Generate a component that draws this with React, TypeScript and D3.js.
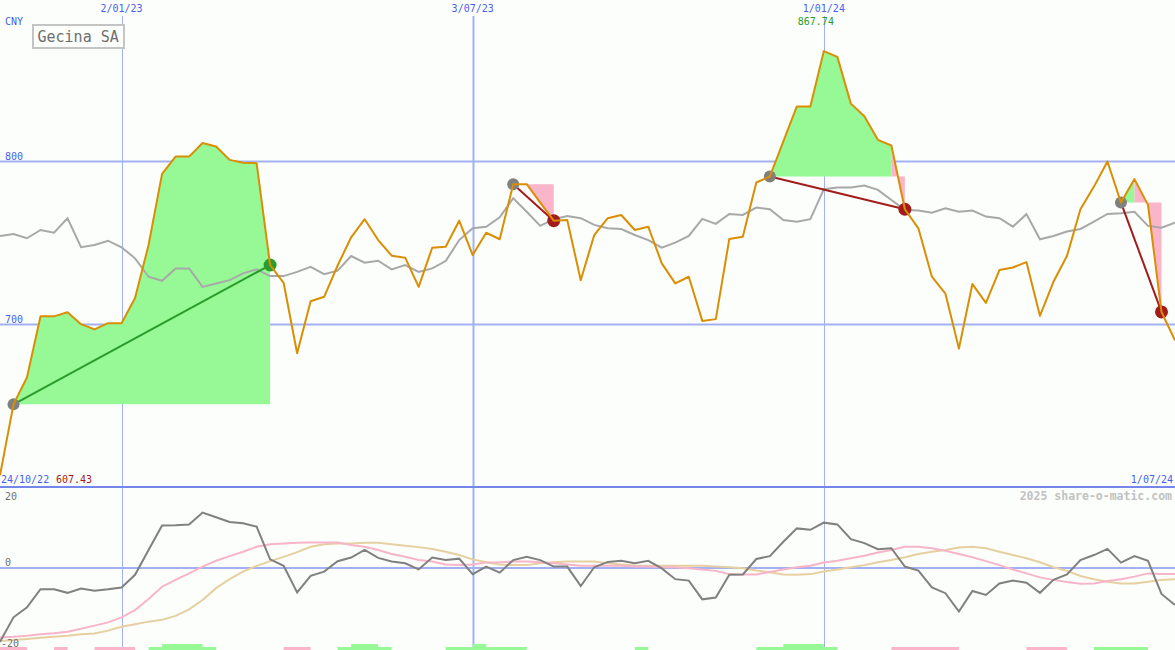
import React from 'react';
import * as d3 from 'd3';

// Weekly closing prices (CNY)
const prices = [
  607.43, 651.0, 667.6, 705.1, 705.0, 707.5, 700.2, 697.0, 700.8, 700.8,
  716.2, 748.8, 792.4, 803.0, 803.0, 811.3, 809.2, 801.0, 799.2, 799.0,
  736.5, 725.6, 682.4, 714.3, 717.0, 736.2, 753.5, 764.6, 751.8, 742.2,
  741.0, 723.1, 747.1, 747.7, 763.7, 742.6, 756.3, 752.3, 786.1, 786.1,
  774.8, 763.7, 764.1, 727.2, 754.9, 765.2, 767.2, 758.0, 760.0, 737.5,
  725.2, 729.3, 702.2, 703.3, 752.5, 753.9, 787.1, 790.8, 812.3, 833.8,
  833.8, 867.74, 864.2, 835.5, 827.7, 813.3, 809.8, 770.7, 759.0, 729.3,
  719.0, 685.2, 724.8, 713.3, 733.4, 735.0, 738.3, 705.3, 726.2, 742.0,
  770.7, 784.6, 800.0, 774.8, 789.2, 773.4, 707.7, 690.3,
];

// Moving average of the price
const average = [
  754.3, 755.5, 752.9, 758.0, 756.3, 765.2, 747.4, 748.8, 751.4, 747.4,
  740.6, 729.3, 726.8, 734.4, 734.4, 723.1, 725.2, 727.2, 731.4, 733.8,
  729.7, 729.7, 732.3, 735.4, 730.9, 733.0, 742.0, 737.9, 739.1, 733.8,
  736.5, 732.3, 734.4, 738.9, 751.8, 759.0, 760.0, 765.8, 777.5, 769.2,
  760.5, 764.6, 766.6, 765.2, 761.1, 759.0, 758.6, 754.9, 751.8, 747.1,
  750.2, 754.3, 764.8, 761.7, 767.8, 767.2, 771.7, 770.7, 764.1, 763.1,
  764.6, 783.0, 784.0, 784.0, 785.2, 782.6, 776.4, 770.3, 769.9, 768.6,
  771.3, 769.2, 769.9, 766.2, 765.2, 760.0, 767.7, 752.3, 754.3, 757.0,
  758.6, 763.1, 767.8, 768.3, 769.2, 760.5, 759.4, 762.5,
];

// Momentum oscillator and its two signal curves
const momentum = [
  -20.5, -13.7, -10.9, -5.9, -5.9, -6.9, -5.7, -6.3, -5.9, -5.4,
  -1.9, 5.0, 11.8, 11.9, 12.1, 15.4, 14.1, 12.8, 12.4, 11.5,
  2.4, 0.6, -6.8, -2.2, -1.0, 1.9, 2.9, 5.0, 2.8, 1.8,
  1.3, -0.4, 2.9, 2.2, 2.6, -1.7, 0.4, -1.3, 2.2, 3.1,
  2.2, 0.4, 0.4, -5.0, 0.2, 1.7, 2.0, 1.3, 2.0, -0.1,
  -3.1, -3.5, -8.7, -8.2, -1.9, -1.8, 2.5, 3.3, 7.3, 11.0,
  10.6, 12.6, 12.1, 8.0, 6.9, 5.2, 5.5, 0.4, -0.7, -5.4,
  -7.0, -12.1, -6.4, -7.5, -4.3, -3.5, -4.1, -6.9, -3.3, -1.8,
  2.2, 3.6, 5.3, 1.5, 3.3, 2.0, -7.2, -10.3,
];

const signalFast = [
  -19.3, -19.1, -18.8, -18.4, -18.1, -17.7, -16.9, -16.0, -15.1, -13.7,
  -11.7, -8.6, -5.2, -3.3, -1.5, 0.4, 2.0, 3.3, 4.5, 5.9,
  6.6, 6.8, 7.0, 7.1, 7.1, 7.1, 6.4, 5.9, 5.0, 3.9,
  3.1, 2.2, 1.8, 1.0, 0.8, 1.0, 1.5, 1.6, 1.8, 1.8,
  1.6, 1.3, 1.0, 0.6, 0.6, 0.6, 0.6, 0.4, 0.4, 0.2,
  0.2, -0.1, -0.4, -0.8, -1.7, -1.8, -1.8, -1.1, -0.4, 0.2,
  0.6, 1.5, 2.0, 2.7, 3.4, 4.3, 5.0, 5.9, 5.9, 5.5,
  4.8, 3.9, 3.0, 1.9, 0.8, -0.4, -1.5, -2.6, -3.3, -3.9,
  -4.4, -4.3, -3.6, -3.1, -2.4, -1.5, -1.7, -1.7,
];

const signalSlow = [
  -20.3, -20.0, -19.7, -19.4, -19.1, -18.8, -18.4, -18.2, -17.4, -16.3,
  -15.6, -14.9, -14.4, -13.3, -11.5, -8.9, -5.6, -3.1, -1.0, 0.6,
  1.9, 3.1, 4.4, 5.9, 6.6, 6.8, 6.8, 7.0, 7.0, 6.6,
  6.2, 5.8, 5.3, 4.5, 3.6, 2.4, 1.6, 1.0, 0.8, 0.8,
  1.3, 1.6, 1.8, 1.8, 1.8, 1.3, 1.0, 0.7, 0.6, 0.6,
  0.6, 0.6, 0.6, 0.4, 0.2, -0.1, -0.7, -1.2, -1.8, -1.9,
  -1.7, -1.0, -0.4, 0.2, 0.8, 1.6, 2.2, 3.0, 3.9, 4.5,
  5.0, 5.7, 5.9, 5.5, 4.5, 3.6, 2.7, 1.6, 0.2, -0.8,
  -2.2, -3.1, -3.8, -4.3, -4.3, -3.8, -3.3, -3.1,
];

// Trades: entry and exit week indices
const tradeStarts = [1, 38, 57, 83];
const tradeEnds = [20, 41, 67, 86];

// Signal strips along the bottom: [from, to, strength, direction]
const stripFrom = [0, 4, 7, 11, 12, 21, 25, 26, 33, 35, 47, 56, 58, 66, 76, 81];
const stripTo = [2, 5, 10, 16, 15, 23, 29, 28, 39, 36, 48, 62, 61, 71, 79, 85];
const stripStrength = [1, 1, 1, 1, 2, 1, 1, 2, 1, 2, 1, 1, 2, 1, 1, 1];
const stripUp = [false, false, false, true, true, false, true, true, true, true, true, true, true, false, false, true];

// Axis labels
const dateTickIndex = [9, 35, 61];
const dateTickLabels = ['2/01/23', '3/07/23', '1/01/24'];
const firstDateLabel = '24/10/22';
const lastDateLabel = '1/07/24';
const priceTicks = [800, 700];
const momentumTicks = [20, 0, -20];
const title = 'Gecina SA';
const currency = 'CNY';

const W = 1175;
const H = 650;
const MAIN_BOTTOM = 487;
const mono = '"DejaVu Sans Mono", monospace';

const C = {
  bg: '#fbfefa',
  grid: '#a3b1f2',
  gridDark: '#7585ea',
  label: '#4a5ef0',
  price: '#da8e04',
  avg: '#a8a8a8',
  up: '#96f996',
  down: '#fbb5ca',
  win: '#2b9b2b',
  loss: '#a21c1c',
  entry: '#808080',
  osc: '#808080',
  fast: '#f8b4c8',
  slow: '#e6cfa0',
};

export default function App() {
  const n = prices.length;
  const x = d3.scaleLinear().domain([0, n - 1]).range([0, W]);
  const y = d3.scaleLinear().domain([700, 800]).range([324.5, 161.5]);
  const yl = d3.scaleLinear().domain([-20, 20]).range([640, 496]);

  const priceLine = d3.line<number>().x((_, i) => x(i)).y((d) => y(d));
  const lowLine = d3.line<number>().x((_, i) => x(i)).y((d) => yl(d));

  const hi = d3.max(prices) as number;
  const lo = d3.min(prices) as number;
  const hiIdx = prices.indexOf(hi);

  // Fills between price and entry level for each trade; each week is
  // coloured by whether it closes above the entry, and runs of the same
  // colour are merged into one shape.
  const fills: { d: string; up: boolean }[] = [];
  tradeStarts.forEach((s, k) => {
    const e = tradeEnds[k];
    const base = prices[s];
    const seg = d3
      .area<number>()
      .x((i) => x(i))
      .y0(y(base))
      .y1((i) => y(prices[i]));
    let runStart = s;
    let runUp = prices[s + 1] >= base;
    for (let j = s; j < e; j++) {
      const up = prices[j + 1] >= base;
      if (up !== runUp) {
        fills.push({ d: seg(d3.range(runStart, j + 1)) as string, up: runUp });
        runStart = j;
        runUp = up;
      }
    }
    fills.push({ d: seg(d3.range(runStart, e + 1)) as string, up: runUp });
  });

  return (
    <svg
      width={W}
      height={H}
      style={{ position: 'absolute', left: 0, top: 0, display: 'block' }}
      fontFamily={mono}
    >
      <defs>
        <clipPath id="mainClip">
          <rect x={0} y={0} width={W} height={MAIN_BOTTOM} />
        </clipPath>
        <clipPath id="lowClip">
          <rect x={0} y={MAIN_BOTTOM + 1} width={W} height={H - MAIN_BOTTOM - 1} />
        </clipPath>
      </defs>
      <rect width={W} height={H} fill={C.bg} />

      {/* grid */}
      {dateTickIndex.map((t, i) => (
        <line
          key={'v' + i}
          x1={Math.round(x(t)) + 0.5}
          x2={Math.round(x(t)) + 0.5}
          y1={16}
          y2={H}
          stroke={C.grid}
          strokeWidth={dateTickLabels[i].includes('/07/') ? 2 : 1}
        />
      ))}
      {priceTicks.map((p) => (
        <line key={'h' + p} x1={0} x2={W} y1={y(p)} y2={y(p)} stroke={C.grid} strokeWidth={2} />
      ))}
      <line x1={0} x2={W} y1={yl(0)} y2={yl(0)} stroke={C.grid} strokeWidth={2} />
      <line x1={0} x2={W} y1={MAIN_BOTTOM} y2={MAIN_BOTTOM} stroke={C.gridDark} strokeWidth={2} />

      {/* main panel */}
      <g clipPath="url(#mainClip)">
        {fills.map((f, i) => (
          <path key={'f' + i} d={f.d} fill={f.up ? C.up : C.down} />
        ))}
        <path d={priceLine(average) as string} fill="none" stroke={C.avg} strokeWidth={2} />
        {tradeStarts.map((s, k) => {
          const e = tradeEnds[k];
          const win = prices[e] > prices[s];
          return (
            <g key={'t' + k}>
              <line
                x1={x(s)}
                y1={y(prices[s])}
                x2={x(e)}
                y2={y(prices[e])}
                stroke={win ? C.win : C.loss}
                strokeWidth={2}
              />
              <circle cx={x(s)} cy={y(prices[s])} r={6} fill={C.entry} />
              <circle cx={x(e)} cy={y(prices[e])} r={6.5} fill={win ? C.win : C.loss} />
            </g>
          );
        })}
        <path d={priceLine(prices) as string} fill="none" stroke={C.price} strokeWidth={2} strokeLinejoin="round" />
      </g>

      {/* lower panel */}
      <g clipPath="url(#lowClip)">
        {stripFrom.map((f, i) => {
          const h = stripStrength[i] === 2 ? 6 : 3;
          return (
            <rect
              key={'s' + i}
              x={x(f)}
              y={H - h}
              width={x(stripTo[i]) - x(f)}
              height={h}
              fill={stripUp[i] ? C.up : C.down}
            />
          );
        })}
        <path d={lowLine(signalSlow) as string} fill="none" stroke={C.slow} strokeWidth={2} />
        <path d={lowLine(signalFast) as string} fill="none" stroke={C.fast} strokeWidth={2} />
        <path d={lowLine(momentum) as string} fill="none" stroke={C.osc} strokeWidth={2} />
      </g>

      {/* labels */}
      {dateTickIndex.map((t, i) => (
        <text key={'dl' + i} x={x(t)} y={12} fontSize={10} fill={C.label} textAnchor="middle">
          {dateTickLabels[i]}
        </text>
      ))}
      <text x={5} y={25} fontSize={10} fill={C.label}>{currency}</text>
      {priceTicks.map((p) => (
        <text key={'pl' + p} x={5} y={y(p) - 2} fontSize={10} fill={C.label}>{p}</text>
      ))}
      <text x={x(hiIdx) - 8} y={25} fontSize={10} fill={C.win} textAnchor="middle">
        {hi.toFixed(2)}
      </text>
      <text x={1} y={483} fontSize={10} fill={C.label}>{firstDateLabel}</text>
      <text x={56} y={483} fontSize={10} fill={C.loss}>{lo.toFixed(2)}</text>
      <text x={W - 2} y={483} fontSize={10} fill={C.label} textAnchor="end">{lastDateLabel}</text>

      <rect x={33} y={25} width={91} height={23} fill={C.bg} stroke="#c4c4c4" strokeWidth={2} />
      <text x={37.5} y={41.5} fontSize={15} fill="#6e6e6e">{title}</text>

      {momentumTicks.map((v) => (
        <text
          key={'ml' + v}
          x={v < 0 ? 1 : 5}
          y={v > 0 ? yl(v) + 4 : v < 0 ? yl(v) + 7 : yl(v) - 2}
          fontSize={10}
          fill="#707070"
        >
          {v}
        </text>
      ))}
      <text x={W - 3} y={500} fontSize={11.5} fontWeight="bold" fill="#c2c2c2" textAnchor="end">
        2025 share-o-matic.com
      </text>
    </svg>
  );
}
